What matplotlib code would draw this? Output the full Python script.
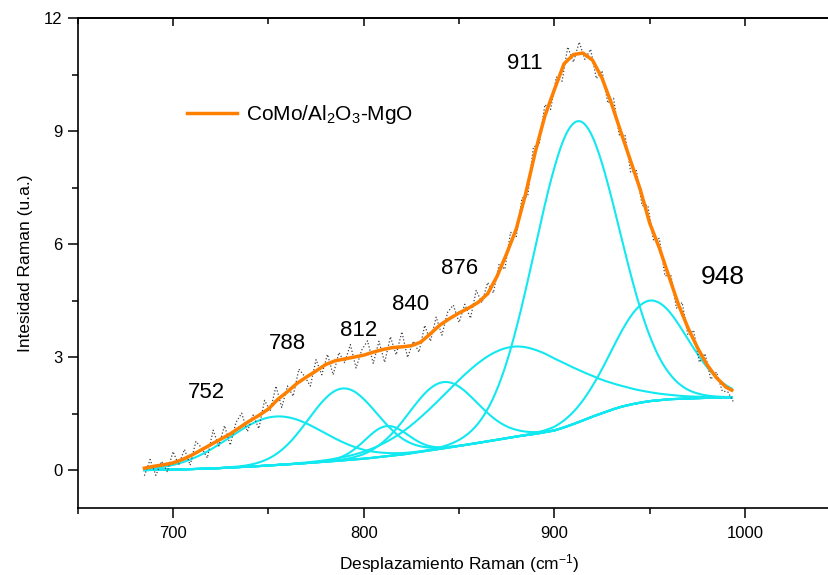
import numpy as np
import matplotlib
matplotlib.use("Agg")
import matplotlib.pyplot as plt
from matplotlib.ticker import MultipleLocator, NullFormatter

plt.rcParams['font.family'] = ['Liberation Sans', 'DejaVu Sans']
plt.rcParams['mathtext.default'] = 'regular'

# espectro suavizado (linea naranja)
fit_x = [685, 690, 695, 700, 705, 710, 715, 720, 725, 730, 735, 740, 745, 750,
         755, 760, 765, 770, 775, 780, 785, 790, 795, 800, 805, 810, 815, 820,
         825, 830, 835, 840, 845, 850, 855, 860, 865, 870, 875, 880, 885, 890,
         895, 900, 905, 910, 915, 920, 925, 930, 935, 940, 945, 950, 955, 960,
         965, 970, 975, 980, 985, 990, 993]
fit_y = [0.05, 0.10, 0.14, 0.19, 0.28, 0.40, 0.54, 0.68, 0.82, 0.96, 1.13, 1.30,
         1.45, 1.62, 1.88, 2.08, 2.30, 2.47, 2.63, 2.80, 2.90, 2.95, 3.00, 3.05,
         3.13, 3.20, 3.25, 3.27, 3.30, 3.40, 3.62, 3.85, 4.02, 4.17, 4.30, 4.45,
         4.68, 5.15, 5.75, 6.40, 7.35, 8.45, 9.40, 10.10, 10.78, 11.03, 11.07,
         10.88, 10.40, 9.72, 8.95, 8.20, 7.45, 6.55, 5.90, 5.15, 4.40, 3.78,
         3.25, 2.80, 2.45, 2.20, 2.12]

# datos experimentales (puntos), cada 3 cm-1 desde 685
raw_y = [-0.15, 0.28, -0.14, 0.23, -0.04, 0.49, 0.14, 0.55, 0.13, 0.76, 0.59,
         0.32, 1.06, 0.64, 1.18, 0.66, 1.26, 1.51, 1.02, 1.46, 1.10, 1.85, 1.57,
         2.23, 1.66, 2.23, 1.96, 2.68, 2.49, 2.23, 2.93, 2.53, 3.07, 2.53, 3.12,
         2.85, 3.33, 2.71, 3.19, 3.43, 2.83, 3.42, 2.86, 3.54, 3.06, 3.67, 2.99,
         3.42, 3.13, 3.84, 3.42, 4.06, 3.58, 4.19, 4.38, 3.92, 4.40, 4.03, 4.77,
         4.44, 4.98, 4.70, 5.47, 5.33, 6.31, 6.20, 7.22, 7.27, 8.58, 8.63, 9.70,
         9.57, 10.43, 10.32, 11.23, 10.83, 11.36, 10.90, 11.17, 10.39, 10.60,
         9.74, 9.87, 8.90, 8.90, 7.90, 7.95, 7.02, 7.03, 6.09, 6.15, 5.15, 5.20,
         4.30, 4.45, 3.58, 3.71, 2.86, 3.09, 2.41, 2.60, 2.10, 2.07, 1.80]
raw_x = 685 + 3 * np.arange(len(raw_y))

# linea base
base_x = [685, 700, 720, 740, 760, 780, 800, 820, 840, 860, 880, 890, 900, 905,
          910, 915, 920, 925, 930, 935, 940, 945, 950, 960, 975, 993]
base_y = [0.0, 0.01, 0.04, 0.09, 0.15, 0.22, 0.30, 0.41, 0.56, 0.72, 0.89, 0.96,
          1.05, 1.13, 1.22, 1.32, 1.42, 1.51, 1.60, 1.68, 1.74, 1.79, 1.83, 1.88,
          1.91, 1.93]

# componentes gaussianas
peak_center = [754, 789, 812, 841.5, 877, 911.5, 950]
peak_height = [1.29, 1.91, 0.80, 1.76, 2.40, 8.00, 2.67]
peak_sigma = [25, 18, 11.5, 18, 34, 22, 19.5]

peak_labels = ['752', '788', '812', '840', '876', '911', '948']
label_x = [717.6, 759.8, 797.5, 824.5, 850.2, 884.6, 988.1]
label_y = [2.07, 3.37, 3.70, 4.39, 5.36, 10.80, 5.12]

fig = plt.figure(figsize=(8.29, 5.75), dpi=100)
ax = fig.add_axes([0.0937, 0.117, 0.9201, 0.8517])

xx = np.linspace(685, 993, 600)
bb = np.interp(xx, base_x, base_y)
cyan = '#12e8f0'
ax.plot(xx, bb, color=cyan, lw=1.6)
for c, h, s in zip(peak_center, peak_height, peak_sigma):
    ax.plot(xx, bb + h * np.exp(-(xx - c) ** 2 / (2 * s ** 2)), color=cyan, lw=1.5)

ax.plot(raw_x, raw_y, color='#444444', lw=0.9, ls=':')
ax.plot(fit_x, fit_y, color='#ff7f00', lw=2.5, label='CoMo/Al$_2$O$_3$-MgO')

for t, lx, ly in zip(peak_labels, label_x, label_y):
    fs = 19 if t == '948' else 16
    ax.text(lx, ly, t, fontsize=fs, ha='center', va='center')

ax.set_xlim(650, 1050)
ax.set_ylim(-1, 12)
ax.xaxis.set_major_locator(MultipleLocator(100))
ax.xaxis.set_minor_locator(MultipleLocator(50))
ax.yaxis.set_major_locator(MultipleLocator(3))
ax.yaxis.set_minor_locator(MultipleLocator(1.5))
ax.tick_params(which='major', direction='out', length=7, width=1.1, labelsize=12)
ax.tick_params(which='minor', direction='out', length=4, width=1.1)
ax.tick_params(axis='x', pad=6)
ax.tick_params(axis='y', pad=4)
for sp in ax.spines.values():
    sp.set_linewidth(1.2)

top = ax.secondary_xaxis('top')
top.xaxis.set_major_locator(MultipleLocator(100))
top.xaxis.set_minor_locator(MultipleLocator(50))
top.xaxis.set_major_formatter(NullFormatter())
top.tick_params(which='major', direction='in', length=6, width=1.1)
top.tick_params(which='minor', direction='in', length=4, width=1.1)
top.spines['top'].set_linewidth(1.2)

ax.set_xlabel('Desplazamiento Raman (cm$^{-1}$)', fontsize=12.5, labelpad=8)
ax.set_ylabel('Intesidad Raman (u.a.)', fontsize=12.5, labelpad=8)

ax.legend(loc='center left', bbox_to_anchor=(0.1433, 0.802), frameon=False,
          fontsize=15, handlelength=2.4, handletextpad=0.45, borderpad=0,
          borderaxespad=0)

fig.savefig('out.png', dpi=100)
